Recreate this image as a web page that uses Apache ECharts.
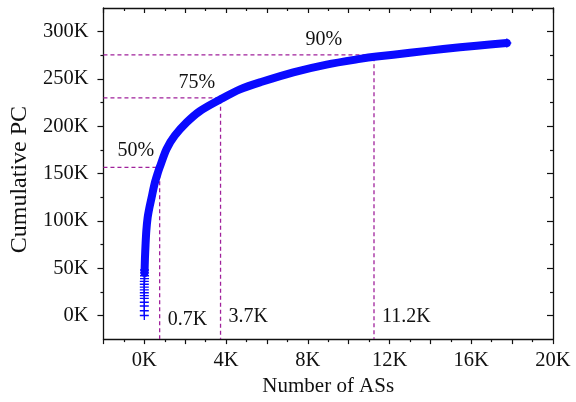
<!DOCTYPE html>
<html>
<head>
<meta charset="utf-8">
<script src="https://cdn.jsdelivr.net/npm/echarts@6/dist/echarts.min.js"></script>
<style>html,body{margin:0;padding:0;background:#fff}#c{width:576px;height:402px}</style>
</head>
<body>
<div id="c"></div>
<script>
// ---- data ----
const curveX = [10, 30, 60, 100, 160, 250, 350, 500, 680, 760, 1090, 1490, 2070, 2720, 3730, 4680, 5750, 7290, 8920, 10550, 11370, 13000, 14630, 16270, 17740];
const curveY = [45000, 60000, 75000, 90000, 103000, 114000, 124000, 139000, 152000, 157000, 176000, 190000, 204000, 216000, 228500, 239000, 247000, 257000, 265200, 271200, 273700, 277600, 281700, 285100, 288000];
const markX = [0, 0, 0, 0, 0, 0, 0, 0, 0, 0, 0, 10, 10, 10, 10, 17740];
const markY = [0, 5000, 10000, 14000, 18000, 21000, 24000, 27000, 30000, 33000, 36000, 39000, 42000, 45000, 48000, 288000];
const guideX = [750, 3730, 11240];
const guideY = [156500, 230000, 275500];
const pctLabels = ['50%', '75%', '90%'];
const countLabels = ['0.7K', '3.7K', '11.2K'];
const xTickLabels = [0, 4000, 8000, 12000, 16000, 20000];
const yTickLabels = [0, 50000, 100000, 150000, 200000, 250000, 300000];
const yMinorTicks = [25000, 75000, 125000, 175000, 225000, 275000];

const X_MIN = -2000, X_MAX = 20000, Y_MIN = -25000, Y_MAX = 325000;
const font = 'Liberation Serif, Times New Roman, serif';
const kfmt = v => (v / 1000) + 'K';
const blue = '#0a0aff';
const purple = '#a0219b';
const ink = '#111';

const chart = echarts.init(document.getElementById('c'), null, {renderer: 'canvas'});

const plusPath = 'path://M0,3.4H8V4.6H0Z M3.4,0H4.6V8H3.4Z';

const guideSeries = guideX.map((gx, i) => ({
  type: 'line', xAxisIndex: 0, yAxisIndex: 0, silent: true, symbol: 'none', z: 1,
  lineStyle: {color: purple, width: 1.3, type: [4, 3]},
  data: [[X_MIN, guideY[i]], [gx, guideY[i]], [gx, Y_MIN]]
}));

const pctPos = [[-420, 174000], [2570, 246000], [8790, 291000]];
const cntY = [-5000, -1000, -1000];

const tickStyle = {color: ink, width: 1.2};
const lineStyleAx = {color: ink, width: 1.3};

const option = {
  animation: false,
  backgroundColor: '#fff',
  grid: {left: 102, right: 23, top: 8, bottom: 60, containLabel: false},
  xAxis: [
    {type: 'value', position: 'bottom', min: X_MIN, max: X_MAX, interval: 2000,
     name: 'Number of ASs', nameLocation: 'middle', nameGap: 33,
     nameTextStyle: {fontFamily: font, fontSize: 21, color: ink},
     axisLine: {show: true, onZero: false, lineStyle: lineStyleAx},
     axisTick: {show: true, length: 5, lineStyle: tickStyle},
     minorTick: {show: true, splitNumber: 2, length: 3, lineStyle: tickStyle},
     splitLine: {show: false},
     axisLabel: {customValues: xTickLabels, formatter: kfmt, margin: 11, fontFamily: font, fontSize: 20.5, color: ink}},
    {type: 'value', position: 'top', min: X_MIN, max: X_MAX, interval: 2000,
     axisLine: {show: true, onZero: false, lineStyle: lineStyleAx},
     axisTick: {show: true, inside: true, length: 5, lineStyle: tickStyle},
     minorTick: {show: true, splitNumber: 2, length: 3, lineStyle: tickStyle},
     splitLine: {show: false}, axisLabel: {show: false}}
  ],
  yAxis: [
    {type: 'value', position: 'left', min: Y_MIN, max: Y_MAX, interval: 25000,
     name: 'Cumulative PC', nameLocation: 'middle', nameGap: 70,
     nameTextStyle: {fontFamily: font, fontSize: 24, color: ink, padding: [0, 12, 0, 0]},
     axisLine: {show: true, onZero: false, lineStyle: lineStyleAx},
     axisTick: {show: true, length: 6, customValues: yTickLabels, lineStyle: tickStyle},
     splitLine: {show: false},
     axisLabel: {customValues: yTickLabels, formatter: kfmt, margin: 15, fontFamily: font, fontSize: 20.5, color: ink}},
    {type: 'value', position: 'left', min: Y_MIN, max: Y_MAX, interval: 25000,
     axisLine: {show: false, onZero: false}, splitLine: {show: false}, axisLabel: {show: false},
     axisTick: {show: true, length: 3, customValues: yMinorTicks, lineStyle: tickStyle}},
    {type: 'value', position: 'right', min: Y_MIN, max: Y_MAX, interval: 25000,
     axisLine: {show: true, onZero: false, lineStyle: lineStyleAx},
     axisTick: {show: true, inside: true, length: 6, customValues: yTickLabels, lineStyle: tickStyle},
     splitLine: {show: false}, axisLabel: {show: false}},
    {type: 'value', position: 'right', min: Y_MIN, max: Y_MAX, interval: 25000,
     axisLine: {show: false, onZero: false}, splitLine: {show: false}, axisLabel: {show: false},
     axisTick: {show: true, inside: true, length: 3, customValues: yMinorTicks, lineStyle: tickStyle}}
  ],
  series: [
    ...guideSeries,
    {type: 'line', xAxisIndex: 0, yAxisIndex: 0, silent: true, symbol: 'none', smooth: 0.3, z: 3,
     lineStyle: {color: blue, width: 8, cap: 'round', join: 'round'},
     data: curveX.map((x, i) => [x, curveY[i]])},
    {type: 'scatter', xAxisIndex: 0, yAxisIndex: 0, silent: true, symbol: plusPath, symbolSize: 9, z: 4,
     itemStyle: {color: blue, opacity: 1},
     data: markX.map((x, i) => [x, markY[i]])},
    {type: 'scatter', xAxisIndex: 0, yAxisIndex: 0, silent: true, symbolSize: 0, z: 5,
     itemStyle: {opacity: 1},
     label: {show: true, position: 'inside', formatter: p => pctLabels[p.dataIndex],
             fontFamily: font, fontSize: 20, color: ink},
     data: pctPos},
    {type: 'scatter', xAxisIndex: 0, yAxisIndex: 0, silent: true, symbolSize: 0, z: 5,
     itemStyle: {opacity: 1},
     label: {show: true, position: 'right', distance: 8, formatter: p => countLabels[p.dataIndex],
             fontFamily: font, fontSize: 20, color: ink},
     data: guideX.map((x, i) => [x, cntY[i]])}
  ]
};
chart.setOption(option);
</script>
</body>
</html>
